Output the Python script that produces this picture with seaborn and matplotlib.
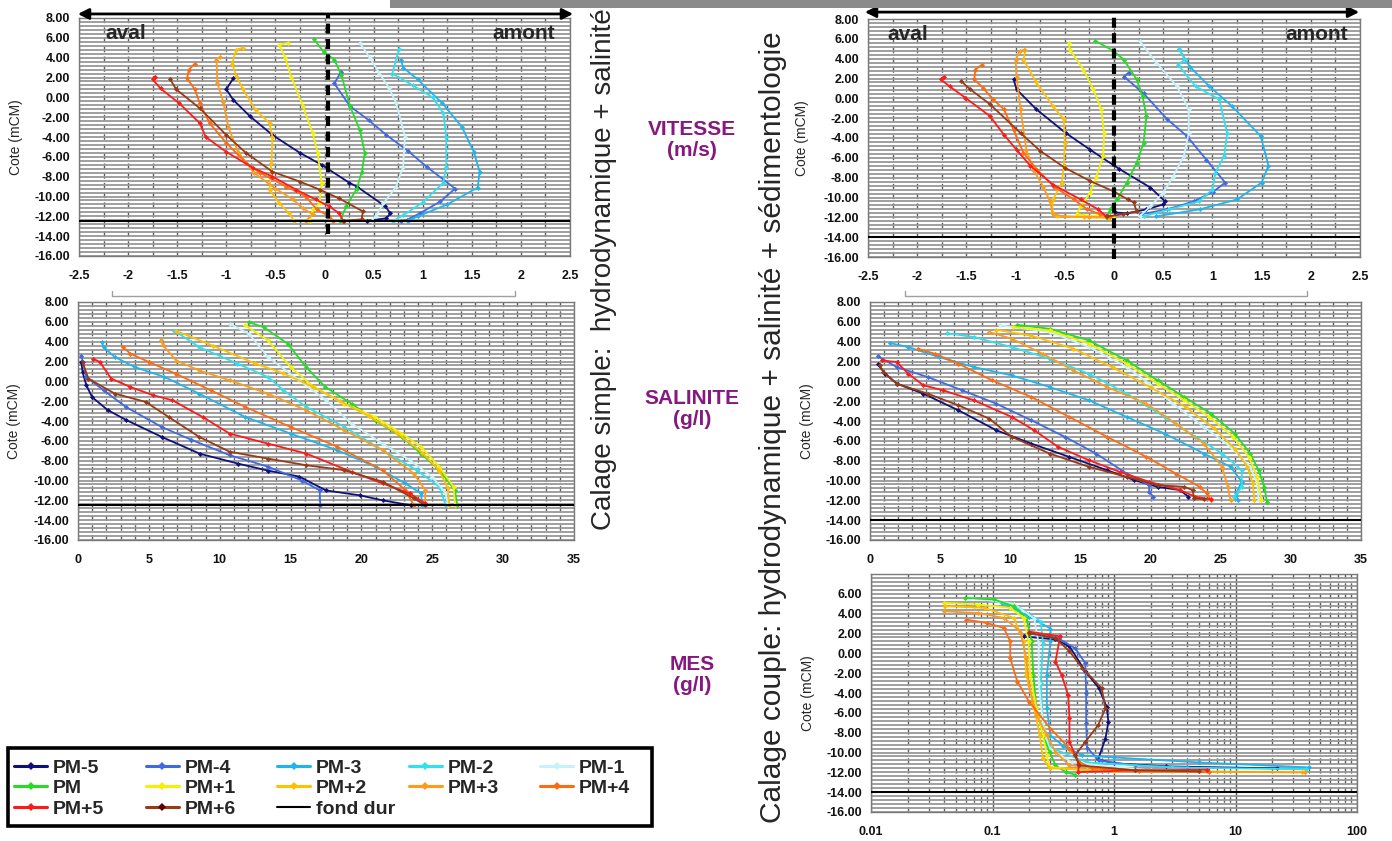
import numpy as np
import pandas as pd
import matplotlib
matplotlib.use('Agg')
import matplotlib.pyplot as plt
import seaborn as sns
from matplotlib.lines import Line2D
from matplotlib.patches import Rectangle
from matplotlib.ticker import MultipleLocator, FuncFormatter, LogLocator

# Style

sns.set_style('white')
plt.rcParams['font.family'] = ['Liberation Sans', 'DejaVu Sans']
plt.rcParams['font.weight'] = 'bold'

# Series (tide steps) and colours

series = ['PM-5', 'PM-4', 'PM-3', 'PM-2', 'PM-1', 'PM', 'PM+1', 'PM+2', 'PM+3', 'PM+4', 'PM+5', 'PM+6']
colors = ['#10107a', '#4169e1', '#1eb4ee', '#2ee0f0', '#c6f2f8', '#22dd22',
          '#f2f200', '#ffc000', '#ff9a1a', '#ff6a10', '#ff1a1a', '#9a3a14']

fond_simple = -12.5
fond_couple = -14.0

# VITESSE (m/s) - calage simple, one list per series (PM-5 ... PM+6)

vit_simple_x = [
    [-0.93, -1.0, -0.93, -0.76, -0.53, -0.25, -0.03, 0.25, 0.33, 0.62, 0.67, 0.63, 0.43],
    [0.17, 0.10, 0.26, 0.45, 0.63, 0.85, 1.04, 1.33, 1.18, 0.97, 0.84, 0.78],
    [0.78, 0.80, 0.95, 1.20, 1.40, 1.52, 1.58, 1.56, 1.25, 0.95, 0.85],
    [0.76, 0.69, 0.90, 1.10, 1.21, 1.24, 1.24, 1.21, 1.00, 0.80, 0.70],
    [0.36, 0.46, 0.56, 0.66, 0.73, 0.82, 0.80, 0.73, 0.60, 0.52, 0.48],
    [-0.11, -0.01, 0.10, 0.17, 0.26, 0.36, 0.41, 0.38, 0.33, 0.22, 0.16],
    [-0.37, -0.46, -0.40, -0.34, -0.22, -0.12, -0.07, -0.03, -0.05, -0.12, -0.15],
    [-0.83, -0.90, -0.94, -0.90, -0.83, -0.70, -0.56, -0.53, -0.54, -0.56, -0.46, -0.36, -0.31],
    [-1.06, -1.10, -1.09, -1.03, -0.98, -0.88, -0.72, -0.50, -0.32, -0.22, -0.12, -0.19],
    [-1.32, -1.38, -1.40, -1.32, -1.27, -1.17, -1.00, -0.80, -0.66, -0.39, -0.19, -0.08, 0.05, 0.09],
    [-1.73, -1.75, -1.67, -1.48, -1.27, -1.21, -1.00, -0.73, -0.53, -0.29, -0.09, 0.05, 0.15, 0.19],
    [-1.57, -1.51, -1.27, -1.00, -0.80, -0.53, -0.25, -0.05, 0.15, 0.39, 0.38, 0.20],
]
vit_simple_z = [
    [1.9, 0.8, -0.25, -1.9, -3.8, -5.6, -6.8, -8.6, -9.0, -11.0, -11.7, -12.2, -12.45],
    [2.6, 1.4, -0.9, -2.3, -3.8, -5.4, -7.0, -9.2, -10.5, -11.7, -12.35, -12.45],
    [3.8, 3.0, 1.8, -0.6, -3.0, -5.5, -7.5, -9.1, -10.8, -12.0, -12.45],
    [4.9, 2.4, 1.2, 0.0, -1.6, -4.0, -7.0, -8.6, -10.6, -11.9, -12.45],
    [5.5, 4.0, 2.4, 0.9, -0.6, -4.0, -7.0, -9.0, -10.7, -12.0, -12.45],
    [5.9, 4.6, 3.8, 2.3, -0.9, -3.3, -5.6, -7.5, -9.2, -11.0, -12.45],
    [5.5, 5.3, 4.0, 2.1, -0.9, -3.6, -5.6, -8.6, -10.7, -11.3, -12.45],
    [5.0, 4.8, 3.4, 2.2, 0.8, -1.3, -2.6, -4.0, -6.6, -9.3, -10.7, -11.7, -12.45],
    [4.1, 3.8, 1.4, -0.5, -3.0, -5.5, -7.6, -9.2, -10.3, -11.2, -11.8, -12.45],
    [3.4, 2.8, 1.9, 0.8, -0.6, -2.6, -4.6, -6.6, -7.6, -9.0, -10.0, -11.3, -12.0, -12.45],
    [2.1, 1.8, 0.9, -0.6, -2.6, -4.0, -5.5, -7.1, -8.0, -9.3, -10.3, -11.0, -11.7, -12.45],
    [1.8, 0.8, -1.1, -3.8, -5.6, -7.5, -8.5, -9.3, -10.2, -11.5, -12.3, -12.45],
]

# VITESSE (m/s) - calage couple

vit_couple_x = [
    [-1.02, -0.99, -0.79, -0.49, -0.24, 0.05, 0.37, 0.52, 0.50, 0.33, 0.13, 0.01],
    [0.15, 0.10, 0.30, 0.54, 0.74, 0.94, 1.13, 1.01, 0.81, 0.54, 0.27],
    [0.66, 0.77, 0.97, 1.20, 1.49, 1.57, 1.50, 1.25, 0.87, 0.43],
    [0.66, 0.72, 0.65, 0.83, 1.07, 1.15, 1.12, 1.03, 1.00, 0.86, 0.56, 0.30],
    [0.26, 0.43, 0.64, 0.76, 0.76, 0.71, 0.60, 0.50, 0.37, 0.26],
    [-0.19, -0.01, 0.10, 0.23, 0.29, 0.33, 0.30, 0.23, 0.13, 0.03, -0.04, -0.07],
    [-0.46, -0.45, -0.31, -0.21, -0.13, -0.10, -0.11, -0.18, -0.24, -0.34, -0.38, -0.18, 0.0],
    [-0.90, -0.92, -0.79, -0.62, -0.51, -0.50, -0.51, -0.53, -0.62, -0.63, -0.58, -0.30, -0.05],
    [-0.91, -0.96, -1.00, -0.99, -0.95, -0.89, -0.82, -0.72, -0.65, -0.62, -0.51, -0.25, -0.05],
    [-1.34, -1.41, -1.42, -1.33, -1.23, -1.12, -1.02, -0.92, -0.78, -0.61, -0.41, -0.27, -0.14, -0.04],
    [-1.73, -1.76, -1.67, -1.51, -1.26, -1.12, -0.99, -0.85, -0.62, -0.34, -0.16, -0.08],
    [-1.55, -1.46, -1.26, -0.95, -0.75, -0.50, -0.24, 0.0, 0.14, 0.20, 0.23, 0.09, -0.07],
]
vit_couple_z = [
    [1.9, 0.9, -1.1, -3.5, -5.2, -7.1, -9.0, -10.4, -10.7, -11.2, -11.6, -11.5],
    [2.6, 2.2, 0.5, -2.1, -3.8, -6.2, -8.5, -9.4, -10.4, -11.2, -11.7],
    [5.0, 3.2, 1.2, -0.8, -3.8, -6.8, -8.5, -10.2, -11.2, -11.9],
    [5.0, 3.9, 3.4, 1.2, -0.1, -3.5, -5.8, -7.5, -9.2, -10.4, -11.2, -11.9],
    [5.8, 3.6, 1.2, -1.1, -3.5, -5.8, -7.9, -9.5, -10.9, -11.9],
    [5.8, 4.8, 3.9, 1.9, 0.2, -1.8, -4.5, -6.5, -8.5, -10.2, -11.2, -12.05],
    [5.6, 4.9, 2.9, 0.9, -1.1, -3.5, -5.8, -7.9, -9.5, -10.9, -11.7, -11.9, -12.05],
    [4.9, 3.9, 1.6, -0.8, -2.1, -4.5, -6.8, -8.5, -10.2, -11.5, -11.9, -12.0, -12.05],
    [4.9, 4.75, 3.9, 2.2, -1.1, -5.2, -7.2, -8.9, -10.4, -11.7, -11.9, -11.95, -12.0],
    [3.4, 2.9, 1.9, 1.05, -0.1, -1.1, -3.2, -5.5, -7.2, -8.9, -10.2, -11.2, -11.7, -11.9],
    [2.2, 1.9, 1.2, 0.05, -1.8, -3.65, -5.2, -6.8, -8.7, -10.2, -11.2, -11.9],
    [1.7, 0.9, -0.6, -3.5, -5.3, -7.0, -8.35, -9.4, -10.2, -10.5, -11.4, -11.7, -11.9],
]

# SALINITE (g/l) - calage simple

sal_simple_x = [
    [0.24, 0.32, 0.59, 1.0, 2.1, 3.4, 5.9, 8.6, 11.3, 13.4, 15.6, 17.5, 19.9, 21.5, 23.5],
    [0.24, 0.59, 1.8, 3.4, 5.9, 8.0, 10.7, 13.4, 15.8, 17.05, 17.1],
    [1.67, 1.8, 2.6, 4.0, 6.1, 8.55, 11.8, 15.0, 18.3, 21.0, 23.1, 24.2, 24.3],
    [6.8, 8.55, 11.25, 13.4, 14.5, 16.1, 18.8, 21.5, 23.9, 25.5, 25.95],
    [10.7, 12.06, 13.4, 15.6, 17.5, 19.3, 21.5, 23.4, 25.0, 25.95, 26.1],
    [12.06, 13.1, 14.8, 16.1, 17.45, 19.3, 20.96, 22.85, 24.2, 25.5, 26.6, 26.76],
    [11.8, 13.4, 15.0, 16.65, 18.8, 20.96, 22.85, 24.2, 25.5, 26.5, 26.6],
    [6.9, 9.5, 12.5, 14.5, 16.5, 18.5, 20.5, 22.5, 24.3, 25.5, 26.1, 26.2],
    [5.85, 6.0, 6.93, 8.55, 10.7, 13.4, 16.1, 18.8, 21.5, 23.7, 24.5, 24.5],
    [3.16, 3.7, 5.0, 6.9, 9.36, 11.8, 15.0, 18.3, 21.5, 23.1, 23.7],
    [1.08, 1.54, 2.35, 3.7, 5.3, 6.66, 8.8, 10.7, 13.4, 16.1, 19.3, 21.5, 23.4, 24.5],
    [0.32, 0.73, 2.6, 4.78, 6.4, 8.55, 10.7, 13.4, 16.1, 18.8, 21.5, 23.7, 24.5],
]
sal_simple_z = [
    [1.95, 0.94, -0.4, -1.6, -2.9, -3.9, -5.6, -7.3, -8.3, -9.0, -9.6, -11.0, -11.5, -12.0, -12.5],
    [2.6, 0.44, -0.9, -2.6, -4.6, -5.9, -7.45, -8.6, -10.0, -11.0, -12.5],
    [3.96, 3.46, 2.45, 1.44, 0.44, -1.24, -3.6, -5.27, -6.95, -8.62, -10.3, -11.3, -12.5],
    [5.1, 3.46, 1.78, 0.44, -0.9, -2.58, -4.6, -6.95, -8.96, -10.64, -12.5],
    [5.8, 4.8, 2.45, 0.1, -1.9, -4.26, -6.28, -7.95, -9.63, -11.3, -12.5],
    [5.97, 5.46, 3.79, 1.44, -0.57, -2.25, -3.93, -5.6, -7.28, -8.96, -10.97, -12.5],
    [5.64, 4.13, 1.44, -0.57, -2.25, -3.6, -5.27, -6.6, -8.62, -10.64, -12.5],
    [5.1, 3.6, 1.8, 0.8, -0.5, -2.0, -3.5, -5.2, -7.2, -9.0, -10.8, -12.5],
    [4.13, 3.63, 2.1, 1.1, 0.1, -1.24, -2.92, -4.93, -6.95, -9.3, -10.97, -12.5],
    [3.46, 2.79, 1.95, 0.77, -0.9, -2.58, -4.6, -6.6, -8.96, -10.97, -12.5],
    [2.28, 1.95, 0.27, -0.57, -1.4, -1.91, -3.6, -5.27, -6.28, -7.28, -9.13, -10.3, -11.3, -12.3],
    [1.95, 0.27, -1.24, -2.08, -3.6, -5.6, -7.1, -7.79, -8.46, -8.96, -10.13, -11.8, -12.5],
]

# SALINITE (g/l) - calage couple

sal_couple_x = [
    [0.55, 1.09, 1.9, 3.8, 6.3, 9.0, 11.5, 14.2, 16.9, 18.85, 20.5, 22.1, 22.7],
    [0.55, 1.9, 4.1, 6.56, 9.0, 11.5, 13.9, 16.1, 18.3, 19.9, 19.9, 20.2],
    [1.42, 2.73, 4.9, 7.4, 10.1, 12.8, 15.6, 18.3, 21.0, 23.8, 25.7, 26.5, 26.1, 26.2],
    [5.46, 7.4, 10.1, 12.8, 15.6, 18.3, 21.0, 23.2, 25.1, 26.5, 26.5, 25.95],
    [9.3, 12.8, 15.6, 18.3, 19.9, 21.6, 23.8, 25.7, 27.1, 27.6, 27.7],
    [10.5, 12.8, 15.6, 18.3, 20.5, 22.4, 24.3, 26.0, 27.1, 27.7, 28.1, 28.3],
    [10.2, 12.8, 15.6, 18.3, 20.5, 22.4, 24.2, 25.9, 27.0, 27.6, 27.9],
    [9.0, 11.5, 14.5, 17.3, 20.0, 22.5, 24.5, 26.0, 26.9, 27.3, 27.4],
    [8.5, 10.1, 12.3, 14.5, 16.9, 19.7, 21.8, 23.8, 25.1, 25.5, 25.7],
    [3.4, 4.6, 6.3, 8.7, 11.5, 14.2, 16.9, 19.7, 21.8, 23.5, 24.0, 24.3],
    [0.82, 1.9, 2.73, 3.8, 5.2, 7.4, 10.1, 11.7, 13.4, 15.6, 17.8, 19.9, 22.1, 23.2, 24.3],
    [0.68, 0.96, 1.9, 4.1, 6.3, 8.5, 10.1, 12.8, 15.6, 18.3, 20.5, 22.4, 23.0, 23.1, 23.8],
]
sal_couple_z = [
    [1.71, 0.77, -0.23, -1.24, -2.92, -4.93, -6.28, -7.62, -8.96, -9.97, -10.64, -10.97, -11.64],
    [2.55, 1.44, 0.44, -0.9, -2.25, -3.93, -5.6, -7.28, -9.3, -10.47, -11.14, -11.64],
    [3.86, 3.46, 2.45, 1.44, 0.6, -0.57, -1.91, -3.59, -5.27, -7.28, -8.62, -10.13, -11.3, -11.98],
    [4.87, 4.46, 3.46, 2.28, 0.77, -1.24, -3.59, -5.6, -7.28, -8.96, -10.64, -11.64],
    [5.64, 4.97, 3.46, 1.44, -0.23, -2.25, -4.6, -6.6, -8.62, -10.3, -11.98],
    [5.7, 5.3, 4.13, 2.11, 0.1, -1.58, -3.25, -5.27, -7.28, -8.96, -10.64, -12.15],
    [5.47, 5.13, 3.79, 1.78, -0.23, -1.91, -3.59, -5.6, -7.62, -9.63, -11.98],
    [5.2, 4.6, 3.3, 1.4, -0.6, -2.6, -4.7, -6.8, -8.6, -10.3, -12.0],
    [4.97, 4.3, 2.79, 1.1, -0.57, -2.25, -4.26, -6.28, -8.62, -10.64, -11.98],
    [3.29, 2.79, 1.78, 0.1, -1.58, -3.59, -5.6, -7.62, -9.3, -10.64, -11.3, -11.98],
    [2.11, 1.95, 0.77, -0.4, -0.9, -1.91, -3.59, -4.93, -6.6, -7.95, -9.13, -10.13, -10.97, -11.64, -11.9],
    [1.61, 0.94, -0.23, -1.24, -2.42, -3.76, -5.6, -7.28, -8.62, -9.63, -10.47, -10.64, -10.97, -11.8, -11.9],
]

# MES (g/l) - calage couple

mes_couple_x = [
    [0.18, 0.33, 0.43, 0.58, 0.75, 0.87, 0.90, 0.85, 0.74, 1.0, 2.7, 22.0],
    [0.20, 0.35, 0.48, 0.58, 0.59, 0.59, 0.60, 0.75, 1.5, 4.0],
    [0.12, 0.20, 0.30, 0.30, 0.28, 0.28, 0.30, 0.38, 0.55, 1.0, 5.0, 40.0],
    [0.10, 0.17, 0.25, 0.26, 0.25, 0.26, 0.30, 0.60, 3.0, 38.0],
    [0.065, 0.15, 0.22, 0.24, 0.24, 0.26, 0.29, 0.45, 2.0],
    [0.059, 0.103, 0.15, 0.19, 0.21, 0.217, 0.23, 0.26, 0.295, 0.33, 0.40, 0.48],
    [0.04, 0.076, 0.14, 0.18, 0.198, 0.204, 0.23, 0.26, 0.28, 0.295, 0.6, 3.0, 37.0],
    [0.041, 0.086, 0.15, 0.18, 0.19, 0.22, 0.245, 0.26, 0.295, 1.0, 35.0],
    [0.04, 0.076, 0.124, 0.17, 0.19, 0.2, 0.23, 0.28, 0.33, 0.43, 2.0, 37.0],
    [0.061, 0.09, 0.124, 0.14, 0.14, 0.16, 0.20, 0.30, 0.43, 0.52, 0.66, 1.6, 6.0],
    [0.20, 0.29, 0.36, 0.33, 0.37, 0.42, 0.43, 0.43, 0.48, 0.51, 0.51, 1.5, 5.8],
    [0.20, 0.33, 0.43, 0.55, 0.79, 0.85, 0.74, 0.58, 0.48, 0.52, 1.5, 5.0],
]
mes_couple_z = [
    [1.7, 1.4, 0.7, -1.8, -3.5, -5.4, -6.9, -8.6, -10.7, -11.1, -11.4, -11.6],
    [2.0, 1.5, 0.5, -1.0, -4.0, -7.0, -9.5, -10.8, -11.3, -11.5],
    [5.1, 3.7, 2.5, 1.2, -2.2, -5.5, -8.3, -9.3, -10.3, -10.5, -11.0, -11.5],
    [5.4, 4.5, 3.2, 1.0, -3.0, -7.0, -9.5, -11.0, -11.5, -11.7],
    [5.6, 5.0, 3.5, 1.0, -3.0, -7.0, -9.5, -11.0, -11.8],
    [5.6, 5.43, 4.75, 3.57, 1.2, -2.18, -5.55, -8.26, -9.95, -11.3, -11.97, -12.24],
    [5.09, 4.92, 4.58, 3.57, 1.2, -2.18, -5.55, -8.26, -10.28, -11.47, -11.8, -11.9, -11.95],
    [4.75, 4.58, 3.57, 1.2, -2.18, -5.55, -8.26, -10.6, -11.57, -11.9, -12.0],
    [4.24, 4.07, 3.57, 2.2, -0.49, -3.19, -6.23, -8.26, -9.95, -11.3, -11.9, -12.0],
    [3.4, 3.06, 2.55, 1.2, -0.49, -2.85, -4.88, -7.58, -9.6, -10.96, -11.6, -11.9, -12.0],
    [2.2, 1.88, 1.71, -0.83, -2.18, -4.2, -6.57, -8.93, -10.28, -11.13, -11.97, -11.8, -11.74],
    [2.04, 1.54, 0.2, -1.5, -3.5, -5.55, -7.24, -8.93, -10.28, -11.3, -11.8, -11.9],
]

# Figure layout (pixel boxes of the original composite)

W, H = 1392, 841
fig = plt.figure(figsize=(W / 100, H / 100), dpi=100)


def rect(l, t, r, b):
    return [l / W, 1 - b / H, (r - l) / W, (b - t) / H]


def panel_df(xs, zs):
    frames = [pd.DataFrame({'serie': name, 'x': x, 'z': z}) for name, x, z in zip(series, xs, zs)]
    return pd.concat(frames, ignore_index=True)


def fmt_g(v, p):
    return f'{round(v, 3) + 0:g}'


def draw_panel(ax, xs, zs, fond, label_x):
    sns.lineplot(data=panel_df(xs, zs), x='x', y='z', hue='serie', hue_order=series,
                 palette=colors, sort=False, estimator=None, marker='D', markersize=2.6,
                 markeredgewidth=0, linewidth=1.3, legend=False, ax=ax)
    ax.axhline(fond, color='black', lw=1.5, zorder=4)
    ax.set_ylim(-16, 8)
    ax.yaxis.set_major_locator(MultipleLocator(2))
    ax.yaxis.set_minor_locator(MultipleLocator(0.4))
    ax.yaxis.set_major_formatter(FuncFormatter(lambda v, p: f'{v:.2f}'))
    ax.grid(True, which='both', axis='y', color='#979797', lw=1.3)
    ax.grid(True, which='both', axis='x', color='#5e5e5e', lw=1.0, ls=(0, (4, 3)))
    ax.set_axisbelow(True)
    ax.set_xlabel('')
    ax.set_ylabel('Cote (mCM)', fontsize=10)
    ax.yaxis.set_label_coords(label_x, 0.5)
    ax.tick_params(which='major', labelsize=9, length=3, width=0.8, color='#555555', labelcolor='#111111')
    ax.tick_params(which='minor', length=0)
    ax.tick_params(axis='x', pad=7)
    for s in ax.spines.values():
        s.set_color('#7a7a7a')
        s.set_linewidth(1)


def velocity_axis(ax, x0, ymin, arrow_l, arrow_r, arrow_y, aval_x, amont_x):
    ax.set_xlim(-2.5, 2.5)
    ax.xaxis.set_major_locator(MultipleLocator(0.5))
    ax.xaxis.set_minor_locator(MultipleLocator(0.25))
    ax.xaxis.set_major_formatter(FuncFormatter(fmt_g))
    ax.axvline(x0, ymin=ymin, ymax=1.02, color='black', lw=3, ls=(0, (2.4, 1.3)), zorder=5, clip_on=False)
    ax.annotate('', xy=(arrow_r, arrow_y), xytext=(arrow_l, arrow_y), xycoords='axes fraction',
                arrowprops=dict(arrowstyle='<|-|>', color='black', lw=2, mutation_scale=16),
                annotation_clip=False)
    ax.text(aval_x, 0.935, 'aval', transform=ax.transAxes, fontsize=15, ha='left', va='center')
    ax.text(amont_x, 0.935, 'amont', transform=ax.transAxes, fontsize=15, ha='right', va='center')


def salinity_axis(ax):
    ax.set_xlim(0, 35)
    ax.xaxis.set_major_locator(MultipleLocator(5))
    ax.xaxis.set_minor_locator(MultipleLocator(1))
    ax.xaxis.set_major_formatter(FuncFormatter(fmt_g))


# Calage simple

ax_vs = fig.add_axes(rect(79, 18, 570, 256))
draw_panel(ax_vs, vit_simple_x, vit_simple_z, fond_simple, -0.115)
velocity_axis(ax_vs, 0.04, (fond_couple + 0.2 + 16) / 24, -0.008, 1.012, 1.017, 0.053, 0.969)

ax_ss = fig.add_axes(rect(78, 302, 574, 540))
draw_panel(ax_ss, sal_simple_x, sal_simple_z, fond_simple, -0.115)
salinity_axis(ax_ss)

# Calage couple

ax_vc = fig.add_axes(rect(868, 19, 1360, 257))
draw_panel(ax_vc, vit_couple_x, vit_couple_z, fond_couple, -0.12)
velocity_axis(ax_vc, 0.0, -0.01, -0.012, 1.004, 1.029, 0.039, 0.976)

ax_sc = fig.add_axes(rect(870, 302, 1361, 540))
draw_panel(ax_sc, sal_couple_x, sal_couple_z, fond_couple, -0.115)
salinity_axis(ax_sc)

ax_mc = fig.add_axes(rect(871, 574, 1357, 812))
draw_panel(ax_mc, mes_couple_x, mes_couple_z, fond_couple, -0.115)
ax_mc.set_xscale('log')
ax_mc.set_xlim(0.01, 100)
ax_mc.xaxis.set_major_locator(LogLocator(base=10))
ax_mc.xaxis.set_minor_locator(LogLocator(base=10, subs=np.arange(2, 10)))
ax_mc.xaxis.set_major_formatter(FuncFormatter(fmt_g))
ax_mc.yaxis.set_major_formatter(FuncFormatter(lambda v, p: '' if v > 7.9 else f'{v:.2f}'))
ax_mc.grid(True, which='major', axis='x', color='#555555', lw=1.0, ls='-')
ax_mc.tick_params(which='minor', length=0)

# Decorations: grey bar at top, small brackets below the velocity panels

fig.add_artist(Rectangle((390 / W, 1 - 8 / H), (W - 390) / W, 8 / H, transform=fig.transFigure,
                         color='#8a8a8a', lw=0))
for l, r in [(112, 515), (905, 1307)]:
    fig.add_artist(Line2D([l / W, l / W, r / W, r / W], [1 - 291 / H, 1 - 296 / H, 1 - 296 / H, 1 - 291 / H],
                          transform=fig.transFigure, color='#a0a0a0', lw=1))

# Vertical titles and variable labels

fig.text(604 / W, 1 - 269 / H, 'Calage simple:  hydrodynamique + salinité', rotation=90,
         ha='center', va='center', fontsize=20, fontweight='normal')
fig.text(773 / W, 1 - 427 / H, 'Calage couple: hydrodynamique + salinité + sédimentologie', rotation=90,
         ha='center', va='center', fontsize=21.5, fontweight='normal')

purple = '#85197f'
for txt, yc in [('VITESSE\n(m/s)', 140), ('SALINITE\n(g/l)', 409), ('MES\n(g/l)', 675)]:
    fig.text(692 / W, 1 - yc / H, txt, ha='center', va='center', fontsize=15, color=purple, linespacing=1.15)

# Legend: five columns inside a black frame

handles = [Line2D([], [], color=c, lw=2.2, marker='D', markersize=4, markeredgewidth=0) for c in colors]
handles[-1].set_markerfacecolor('#5a0000')
handles.append(Line2D([], [], color='black', lw=1.5))
labels = series + ['fond dur']
for col in range(5):
    idx = list(range(col, len(labels), 5))
    fig.legend([handles[i] for i in idx], [labels[i] for i in idx], loc='upper left',
               bbox_to_anchor=((14 + col * 131.5) / W, 1 - 759 / H), frameon=False,
               borderpad=0, borderaxespad=0, handlelength=1.7, handletextpad=0.3,
               labelspacing=0.15, prop={'weight': 'bold', 'size': 14})
fig.add_artist(Rectangle((8 / W, 1 - 826 / H), 644 / W, 78 / H, transform=fig.transFigure,
                         fill=False, ec='black', lw=2.6))

fig.savefig('out.png', dpi=100, facecolor='white')
